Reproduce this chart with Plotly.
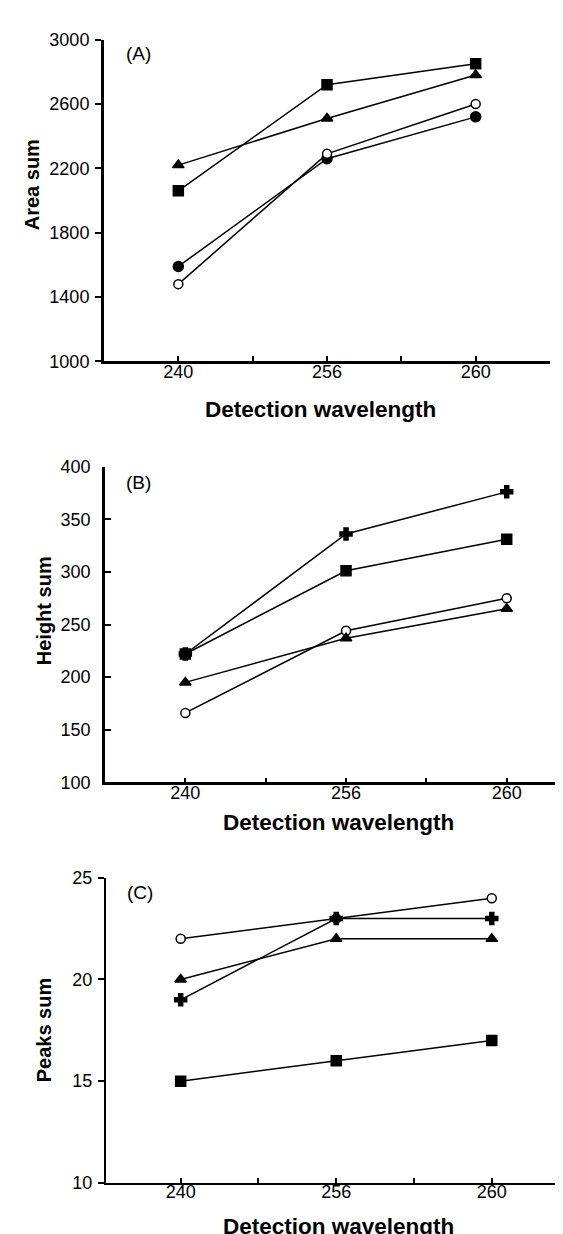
import plotly.graph_objects as go

wavelengths = ["240", "256", "260"]
x_idx = list(range(len(wavelengths)))

# Panel A: Area sum
area_square = [2060, 2720, 2850]
area_triangle = [2220, 2510, 2780]
area_filled = [1590, 2260, 2520]
area_open = [1480, 2290, 2600]

# Panel B: Height sum
height_cross = [222, 336, 376]
height_square = [222, 301, 331]
height_open = [166, 244, 275]
height_triangle = [195, 237, 265]

# Panel C: Peaks sum
peaks_open = [22, 23, 24]
peaks_cross = [19, 23, 23]
peaks_triangle = [20, 22, 22]
peaks_square = [15, 16, 17]

W, H = 563, 1234
FONT = "Liberation Sans, Arial, sans-serif"

fig = go.Figure()

def add(series, symbol, xa, ya, size=10, filled=True):
    fig.add_trace(go.Scatter(
        x=x_idx, y=series, mode="lines+markers", xaxis=xa, yaxis=ya,
        line=dict(color="black", width=1.5),
        marker=dict(symbol=symbol, size=size, color="black" if filled else "white",
                    line=dict(color="black", width=1.5)),
        showlegend=False))

add(area_square, "square", "x", "y")
add(area_triangle, "triangle-up", "x", "y")
add(area_filled, "circle", "x", "y")
add(area_open, "circle", "x", "y", size=9, filled=False)

add(height_cross, "cross", "x2", "y2")
add(height_square, "square", "x2", "y2")
add(height_open, "circle", "x2", "y2", size=9, filled=False)
add(height_triangle, "triangle-up", "x2", "y2")

add(peaks_open, "circle", "x3", "y3", size=9, filled=False)
add(peaks_cross, "cross", "x3", "y3")
add(peaks_triangle, "triangle-up", "x3", "y3")
add(peaks_square, "square", "x3", "y3")

def dom_x(l, r):
    return [l / W, min(r / W, 1.0)]

def dom_y(top, bottom):
    return [1 - bottom / H, 1 - top / H]

tickvals = [0, 0.5, 1, 1.5, 2]
ticktext = [wavelengths[0], "", wavelengths[1], "", wavelengths[2]]

def xaxis(domain, rng, anchor, lw):
    return dict(domain=domain, range=rng, anchor=anchor, tickvals=tickvals, ticktext=ticktext,
                ticks="inside", ticklen=5, tickwidth=1.5, tickcolor="black",
                showline=True, linecolor="black", linewidth=lw, showgrid=False, zeroline=False,
                tickfont=dict(family=FONT, size=18, color="black"), ticklabelstandoff=-8)

def yaxis(domain, rng, dtick, anchor, lw, ticks):
    return dict(domain=domain, range=rng, anchor=anchor, dtick=dtick, tick0=rng[0],
                ticks=ticks, ticklen=6, tickwidth=1.5, tickcolor="black",
                showline=True, linecolor="black", linewidth=lw, showgrid=False, zeroline=False,
                tickfont=dict(family=FONT, size=18, color="black"),
                ticklabelstandoff=2 if ticks == "outside" else 8)

fig.update_layout(
    width=W, height=H, margin=dict(l=0, r=0, t=0, b=0),
    paper_bgcolor="white", plot_bgcolor="white",
    xaxis=xaxis(dom_x(96, 542), [-0.5, 2.5], "y", 3),
    yaxis=yaxis(dom_y(22, 349), [1000, 3000], 400, "x", 3, "outside"),
    xaxis2=xaxis(dom_x(97, 563), [-0.5, 2.4], "y2", 2.5),
    yaxis2=yaxis(dom_y(456, 777), [100, 400], 50, "x2", 2.5, "inside"),
    xaxis3=xaxis(dom_x(98, 560), [-0.48, 2.49], "y3", 2),
    yaxis3=yaxis(dom_y(874, 1184), [10, 25], 5, "x3", 2, "outside"),
)

def ann(text, x, y, size, bold=False, angle=0):
    fig.add_annotation(text=f"<b>{text}</b>" if bold else text, x=x / W, y=1 - y / H,
                       xref="paper", yref="paper", showarrow=False, textangle=angle,
                       font=dict(family=FONT, size=size, color="black"),
                       xanchor="center", yanchor="middle")

ann("(A)", 130, 36, 19)
ann("(B)", 130, 472, 19)
ann("(C)", 132, 889, 19)
ann("Area sum", 24, 170, 20, bold=True, angle=-90)
ann("Height sum", 36, 603, 20, bold=True, angle=-90)
ann("Peaks sum", 36, 1029, 20, bold=True, angle=-90)
ann("Detection wavelength", 312, 398, 22.5, bold=True)
ann("Detection wavelength", 330, 818, 22.5, bold=True)
ann("Detection wavelength", 330, 1228, 22.5, bold=True)

fig.write_html("out.html")
